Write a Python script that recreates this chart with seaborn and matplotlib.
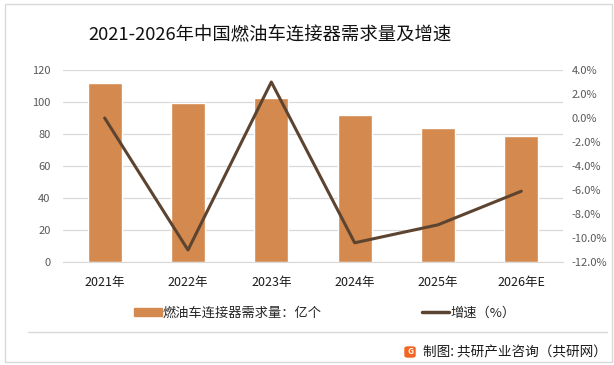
import numpy as np
import pandas as pd
import matplotlib
matplotlib.use("Agg")
import matplotlib.pyplot as plt
import matplotlib.patches as mpatches
from matplotlib.lines import Line2D
from matplotlib.ticker import FuncFormatter
import seaborn as sns

years = ['2021年', '2022年', '2023年', '2024年', '2025年', '2026年E']
demand = [112, 99.5, 102.5, 92, 84, 79]          # 亿个
growth = [0.0, -11.0, 3.0, -10.4, -8.9, -6.1]    # %

bar_color = '#D48A4E'
line_color = '#5C4431'
grid_color = '#D9D9D9'

sns.set_style('white')
plt.rcParams['font.family'] = ['Noto Sans CJK SC', 'DejaVu Sans']

W, H = 614, 365
fig = plt.figure(figsize=(W / 100, H / 100), dpi=100, facecolor='white')
ax = fig.add_axes([63 / W, 1 - 262 / H, 500 / W, 192 / H])

df = pd.DataFrame({'year': years, 'demand': demand})
sns.barplot(data=df, x='year', y='demand', color=bar_color, width=0.41,
            saturation=1, ax=ax)
ax.set_ylim(0, 120)
ax.set_yticks(np.arange(0, 121, 20))
ax.set_xlim(-0.5, len(years) - 0.5)
ax.grid(axis='y', color=grid_color, lw=0.9)
ax.set_axisbelow(True)
for s in ['top', 'right', 'left']:
    ax.spines[s].set_visible(False)
ax.spines['bottom'].set_color(grid_color)
ax.set_xlabel('')
ax.set_ylabel('')
ax.tick_params(axis='y', length=0, pad=9, labelsize=8, labelcolor='#595959')
ax.tick_params(axis='x', length=0, pad=10, labelsize=9, labelcolor='#1a1a1a')

ax2 = ax.twinx()
sns.lineplot(x=np.arange(len(years)), y=growth, color=line_color, lw=2.2, ax=ax2)
ax2.set_ylim(-12, 4)
ax2.set_yticks(np.arange(-12, 4.1, 2))
ax2.yaxis.set_major_formatter(FuncFormatter(lambda v, p: f'{v:.1f}%'))
for s in ax2.spines.values():
    s.set_visible(False)
ax2.tick_params(axis='y', length=0, pad=6, labelsize=8, labelcolor='#595959')
ax2.set_ylabel('')

fig.text(270 / W, 1 - 35 / H, '2021-2026年中国燃油车连接器需求量及增速',
         ha='center', va='center', fontsize=13.2, color='#111111')

handles = [mpatches.Patch(color=bar_color), Line2D([], [], color=line_color, lw=2.5)]
labels = ['燃油车连接器需求量：亿个', '增速（%）']
fig.legend(handles, labels, loc='center left',
           bbox_to_anchor=(134 / W, 1 - 313 / H), ncol=2, frameon=False,
           fontsize=9.5, handlelength=2.1, handleheight=0.55, handletextpad=0.05,
           columnspacing=7.6, borderpad=0, borderaxespad=0)

fig.add_artist(Line2D([28 / W, 607 / W], [1 - 332 / H, 1 - 332 / H],
                      color=grid_color, lw=1, transform=fig.transFigure))
fig.add_artist(mpatches.FancyBboxPatch((405 / W, 1 - 357 / H), 10 / W, 10 / H,
                                       boxstyle='round,pad=0,rounding_size=0.004',
                                       color='#F26522', transform=fig.transFigure))
fig.text(410 / W, 1 - 352 / H, 'G', ha='center', va='center', fontsize=6,
         color='white', fontweight='bold')
fig.text(423 / W, 1 - 352 / H, '制图: 共研产业咨询（共研网）', ha='left', va='center',
         fontsize=9.8, color='#1a1a1a')

fig.add_artist(mpatches.Rectangle((5 / W, 3 / H), 607 / W, 358 / H, fill=False,
                                  edgecolor=grid_color, lw=1, transform=fig.transFigure))

fig.savefig('out.png', dpi=100, facecolor='white')
